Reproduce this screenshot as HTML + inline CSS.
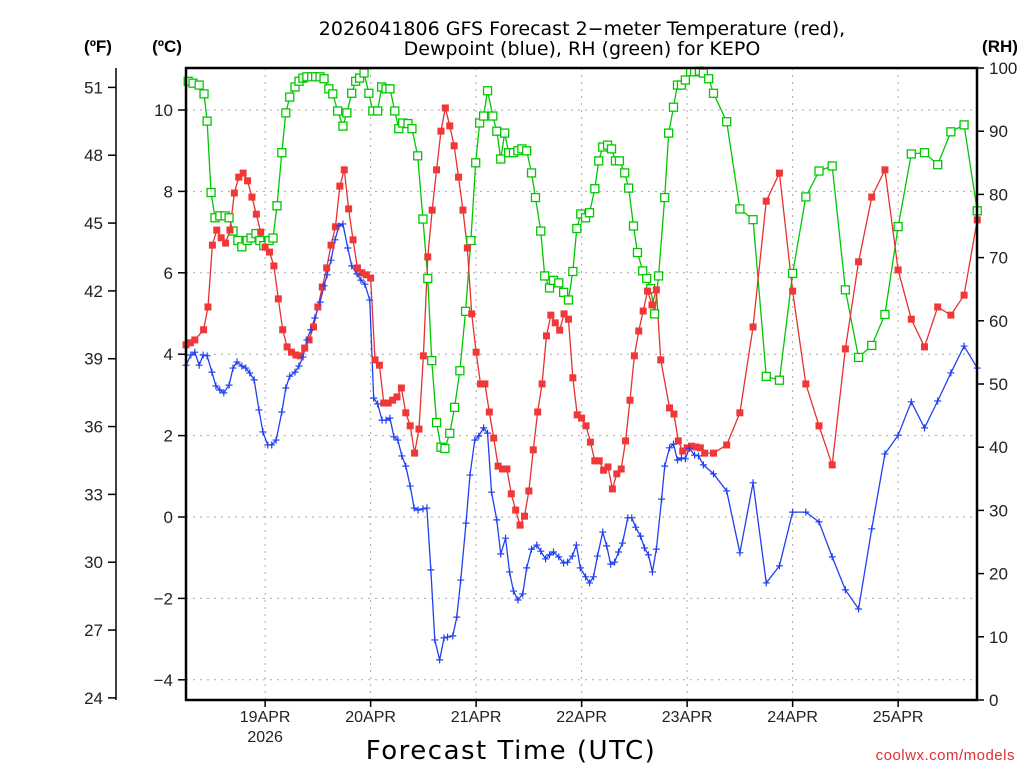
<!DOCTYPE html>
<html><head><meta charset="utf-8"><style>
html,body{margin:0;padding:0;background:#fff;}
svg{display:block;font-family:"Liberation Sans","DejaVu Sans",sans-serif;}
</style></head><body>
<svg id="chart" width="1024" height="768" viewBox="0 0 1024 768" xmlns="http://www.w3.org/2000/svg">
<text x="582" y="35" text-anchor="middle" font-size="19" fill="#000" font-family="DejaVu Sans, sans-serif">2026041806 GFS Forecast 2−meter Temperature (red),</text>
<text x="582" y="55" text-anchor="middle" font-size="19" fill="#000" font-family="DejaVu Sans, sans-serif">Dewpoint (blue), RH (green) for KEPO</text>
<text x="98" y="52" text-anchor="middle" font-size="17" font-weight="bold">(ºF)</text>
<text x="167" y="52" text-anchor="middle" font-size="17" font-weight="bold">(ºC)</text>
<text x="1000" y="52" text-anchor="middle" font-size="17" font-weight="bold">(RH)</text>
<text x="511" y="759" text-anchor="middle" font-size="26" letter-spacing="1.5" font-family="DejaVu Sans, sans-serif">Forecast Time (UTC)</text>
<text x="1015" y="760" text-anchor="end" font-size="15" fill="#e03030" letter-spacing="0.5">coolwx.com/models</text>
<g id="grid"></g><g id="series"></g><g id="axes"></g>
</svg>
<script>
const tempHours=[0,1,2,4,5,6,7,8,9,10,11,12,13,14,15,16,17,18,19,20,21,22,23,24,25,26,27,28,29,30,31,32,33,34,35,36,37,38,39,40,41,42,43,44,45,46,47,48,49,50,51,52,53,54,55,56,57,58,59,60,61,62,63,64,65,66,67,68,69,70,71,72,73,74,75,76,77,78,79,80,81,82,83,84,85,86,87,88,89,90,91,92,93,94,95,96,97,98,99,100,101,102,103,104,105,106,107,108,110,111,112,113,114,115,116,117,118,120,123,126,129,132,135,138,141,144,147,150,153,156,159,162,165,168,171,174,177,180];
const tempC=[4.23,4.28,4.35,4.6,5.16,6.68,7.05,6.86,6.73,7.05,7.96,8.35,8.45,8.26,7.86,7.44,7.0,6.63,6.51,6.17,5.36,4.6,4.18,4.05,3.98,3.96,4.15,4.35,4.67,5.16,5.65,6.12,6.68,7.13,8.13,8.53,7.57,6.81,6.12,6.0,5.95,5.87,3.86,3.73,2.8,2.8,2.87,2.95,3.17,2.56,2.24,1.57,2.16,3.96,6.39,7.54,8.53,9.48,10.05,9.61,9.12,8.35,7.54,6.61,4.99,4.05,3.27,3.27,2.58,1.94,1.25,1.18,1.18,0.57,0.17,-0.2,0.02,0.64,1.65,2.58,3.27,4.45,4.96,4.77,4.59,4.99,4.86,3.42,2.51,2.43,2.24,1.84,1.38,1.38,1.15,1.23,0.69,1.06,1.18,1.87,2.87,3.96,4.57,5.06,5.55,5.21,5.58,3.86,2.68,2.53,1.87,1.62,1.7,1.74,1.72,1.7,1.57,1.57,1.77,2.56,4.67,7.76,8.45,5.55,3.27,2.24,1.28,4.13,6.27,7.86,8.53,6.07,4.86,4.18,5.16,4.96,5.45,7.3];
const dewHours=[0,1.1,2,3,3.9,4.8,5.9,6.8,7.7,8.6,9.8,10.7,11.6,12.7,13.6,14.5,15.5,16.6,17.5,18.6,19.5,20.5,21.8,22.7,23.6,24.8,25.7,26.6,27.5,28.4,29.3,30.5,31.4,32.1,33,33.9,34.8,35.7,36.8,37.7,38.9,39.8,40.7,41.8,42.7,43.6,44.6,45.5,46.4,47.3,48.2,49.1,50,51,51.9,52.8,53.9,54.8,55.7,56.6,57.7,58.7,59.5,60.7,61.6,62.5,63.7,64.6,65.7,66.6,67.7,68.6,69.5,70.7,71.6,72.7,73.6,74.5,75.5,76.6,77.5,78.6,79.8,80.7,81.8,82.7,83.6,84.8,85.9,86.8,87.9,88.8,89.7,90.9,91.8,92.7,93.6,94.8,95.7,96.6,97.5,98.4,99.3,100.5,101.4,102.3,103.4,104.3,105.2,106.1,107,108.2,108.9,110,110.9,111.8,112.7,113.6,114.5,115.7,116.6,117.7,120,123,126,129,132,135,138,141,144,147,150,153,156,159,162,165,168,171,174,177,180];
const dewC=[3.73,3.98,4.05,3.73,3.98,3.96,3.56,3.22,3.12,3.05,3.24,3.66,3.81,3.71,3.66,3.54,3.37,2.63,2.09,1.77,1.77,1.89,2.58,3.17,3.46,3.56,3.71,3.93,4.35,4.6,4.89,5.28,5.68,5.95,6.31,6.81,7.15,7.2,6.61,6.17,5.97,5.82,5.72,5.33,2.92,2.78,2.38,2.38,2.43,1.97,1.89,1.5,1.25,0.76,0.22,0.17,0.2,0.22,-1.3,-3.02,-3.51,-2.97,-2.95,-2.92,-2.46,-1.55,-0.15,1.03,1.89,1.99,2.19,2.06,0.61,-0.07,-0.91,-0.52,-1.35,-1.82,-2.04,-1.89,-1.25,-0.79,-0.69,-0.84,-1.03,-0.93,-0.86,-0.98,-1.13,-1.11,-0.96,-0.69,-1.25,-1.47,-1.62,-1.47,-0.96,-0.37,-0.71,-1.16,-1.11,-0.86,-0.64,-0.02,-0.02,-0.25,-0.47,-0.76,-0.93,-1.35,-0.79,0.44,1.25,1.7,1.79,1.4,1.45,1.43,1.69,1.52,1.5,1.28,1.06,0.64,-0.88,0.84,-1.62,-1.2,0.12,0.12,-0.12,-0.98,-1.79,-2.26,-0.29,1.55,2.01,2.83,2.19,2.85,3.54,4.2,3.66];
const rhHours=[0.5,1.6,3,4.1,4.8,5.7,6.6,7.7,8.9,9.8,10.7,11.8,12.7,13.9,14.8,15.9,16.8,17.7,18.9,19.8,20.7,21.8,22.7,23.6,24.8,25.7,26.6,27.5,28.6,29.5,30.5,31.4,32.5,33.4,34.5,35.7,36.6,37.7,38.6,39.5,40.5,41.6,42.5,43.6,44.5,45.5,46.4,47.5,48.4,49.3,50.5,51.4,52.7,53.9,55,55.9,57,58,58.9,60,61.1,62.3,63.6,64.8,65.9,66.8,67.7,68.6,69.8,70.7,71.6,72.5,73.4,74.5,75.5,76.4,77.5,78.6,79.5,80.7,81.6,82.7,83.6,84.8,85.9,87,88,88.9,89.8,90.9,91.8,93,93.9,94.8,95.9,96.8,97.7,98.6,99.8,100.7,101.8,102.7,103.9,104.8,105.7,106.6,107.5,108.9,109.8,110.9,111.8,112.7,113.6,114.8,115.7,116.8,117.7,118.9,120,123,126,129,132,135,138,141,144,147,150,153,156,159,162,165,168,171,174,177,180];
const rhPct=[97.9,97.6,97.3,95.9,91.6,80.3,76.3,76.6,76.6,76.3,74.2,72.7,71.7,72.7,73.1,73.8,72.7,71.9,72.7,73.1,78.2,86.6,92.9,95.4,97,97.9,98.4,98.6,98.6,98.6,98.6,98.3,96.7,95.9,93.2,90.8,92.9,96,97.9,98.4,99.2,96,93.2,93.2,97,96.7,96.7,93.2,90.4,91.3,91.2,90.4,86.1,76.1,66.7,53.7,43.9,40,39.8,42.2,46.3,52.1,61.5,72.7,85,91.3,92.4,96.4,92.4,90,85.6,89.7,86.6,86.6,86.9,87.2,86.9,83.4,79.5,74.2,67.1,65.2,66.4,66,64.5,63.3,67.8,74.6,76.9,76.3,77.1,80.9,85.3,87.5,87.8,87.2,85.3,85.3,83.4,81,75,70.8,67.9,66.7,65.1,61.1,67.1,79.5,89.7,93.8,97.3,97.3,98.1,99.4,99.4,99.5,99.2,98.3,96,91.5,77.7,76,51.2,50.6,67.5,79.6,83.7,84.5,64.9,54.2,56.1,61,74.9,86.4,86.6,84.7,89.9,91,77.4];
const celsiusTicks=[-4,-2,0,2,4,6,8,10];
const fahrenheitTicks=[24,27,30,33,36,39,42,45,48,51];
const rhTicks=[0,10,20,30,40,50,60,70,80,90,100];
const dayLabels=["19APR","20APR","21APR","22APR","23APR","24APR","25APR"];
const dayHours=[18,42,66,90,114,138,162];

const L=186,R=977,T=68,B=700;
const xS=h=>L+h*(105.5/24);
const yC=c=>517-c*40.7;
const yF=f=>yC((f-32)/1.8);
const yR=r=>B-r*(B-T)/100;
const NS="http://www.w3.org/2000/svg";
function mk(tag,attrs,parent,text){const e=document.createElementNS(NS,tag);for(const k in attrs)e.setAttribute(k,attrs[k]);if(text!==undefined)e.textContent=text;parent.appendChild(e);return e;}
const grid=document.getElementById('grid'),axes=document.getElementById('axes'),ser=document.getElementById('series');

celsiusTicks.forEach(c=>{
  const g=mk('line',{x1:L,x2:R,y1:yC(c),y2:yC(c),stroke:'#aaa','stroke-dasharray':'2,5','stroke-width':1},grid);
  
  
  const t=mk('line',{x1:L-8,x2:L,y1:yC(c),y2:yC(c),stroke:'#000','stroke-width':1.5},axes);
  
  
  const lb=mk('text',{x:L-13,y:yC(c)+6,'text-anchor':'end','font-size':17,fill:'#222'},axes,c<0?'−'+Math.abs(c):String(c));
  
  
});
dayHours.forEach((h,i)=>{
  const g=mk('line',{x1:xS(h),x2:xS(h),y1:T,y2:B,stroke:'#aaa','stroke-dasharray':'2,5','stroke-width':1},grid);
  
  
  const t=mk('line',{x1:xS(h),x2:xS(h),y1:B,y2:B+7,stroke:'#000','stroke-width':1.5},axes);
  
  
  const lb=mk('text',{x:xS(h),y:B+22,'text-anchor':'middle','font-size':16,fill:'#222'},axes,dayLabels[i]);
  
  
});
const yr=mk('text',{x:xS(dayHours[0]),y:B+42,'text-anchor':'middle','font-size':16,fill:'#222'},axes,'2026');



const fax=mk('line',{x1:116,x2:116,y1:T,y2:B,stroke:'#000','stroke-width':1.5},axes);


fahrenheitTicks.forEach(f=>{
  const t=mk('line',{x1:108,x2:116,y1:yF(f),y2:yF(f),stroke:'#000','stroke-width':1.5},axes);
  
  
  const lb=mk('text',{x:103,y:yF(f)+6,'text-anchor':'end','font-size':17,fill:'#222'},axes,String(f));
  
  
});
rhTicks.forEach(r=>{
  const t=mk('line',{x1:R,x2:R+7,y1:yR(r),y2:yR(r),stroke:'#000','stroke-width':1.5},axes);
  
  
  const lb=mk('text',{x:R+12,y:yR(r)+6,'font-size':17,fill:'#222'},axes,String(r));
  
  
});
const box=mk('rect',{x:L,y:T,width:R-L,height:B-T,fill:'none',stroke:'#000','stroke-width':2.5},axes);



function drawLine(hours,vals,yfn,color,name){
  const p=mk('polyline',{points:hours.map((h,i)=>xS(h)+','+yfn(vals[i])).join(' '),fill:'none',stroke:color,'stroke-width':1.3},ser);
  
  
}
drawLine(rhHours,rhPct,yR,'#00c800','rh');
drawLine(tempHours,tempC,yC,'#e83030','temperature');
drawLine(dewHours,dewC,yC,'#2040f0','dewpoint');
rhHours.forEach((h,i)=>{
  const m=mk('rect',{x:xS(h)-4,y:yR(rhPct[i])-4,width:8,height:8,fill:'#fff',stroke:'#00c800','stroke-width':1.3},ser);
  
  
});
tempHours.forEach((h,i)=>{
  const m=mk('rect',{x:xS(h)-3.5,y:yC(tempC[i])-3.5,width:7,height:7,fill:'#f03838'},ser);
  
  
});
dewHours.forEach((h,i)=>{
  const x=xS(h),y=yC(dewC[i]);
  const m=mk('path',{d:`M${x-3.5},${y}H${x+3.5}M${x},${y-3.5}V${y+3.5}`,stroke:'#2040f0','stroke-width':1.2},ser);
  
  
});
</script>
</body></html>
